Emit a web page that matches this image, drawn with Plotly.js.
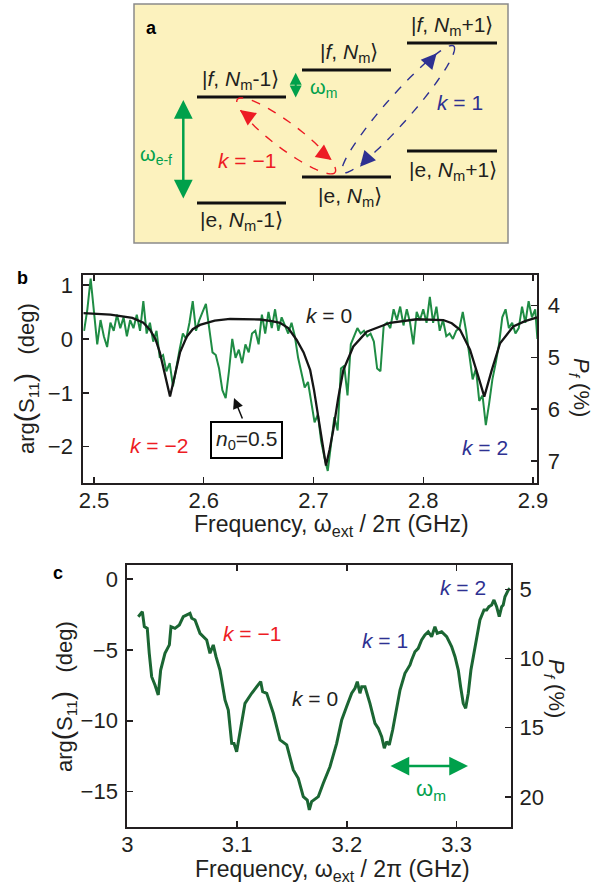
<!DOCTYPE html>
<html><head><meta charset="utf-8">
<script src="https://cdn.plot.ly/plotly-3.0.1.min.js"></script>
<style>html,body{margin:0;padding:0;background:#fff}</style>
</head><body><div id="chart" style="width:600px;height:883px"></div>
<script>
const W = 600, H = 883;

// ---------- panel b : measured phase (noisy) ----------
const freqB = [2.491,2.494,2.497,2.500,2.503,2.506,2.509,2.512,2.515,2.518,2.521,2.524,2.527,2.530,2.533,2.536,2.539,2.542,2.545,2.548,2.551,2.554,2.557,2.560,2.563,2.566,2.569,2.572,2.575,2.578,2.581,2.584,2.587,2.590,2.593,2.596,2.599,2.602,2.605,2.608,2.611,2.614,2.617,2.620,2.623,2.626,2.629,2.632,2.635,2.638,2.641,2.644,2.647,2.650,2.653,2.656,2.659,2.662,2.665,2.668,2.671,2.674,2.677,2.680,2.683,2.686,2.689,2.692,2.695,2.698,2.701,2.704,2.707,2.710,2.713,2.716,2.719,2.722,2.725,2.728,2.731,2.734,2.737,2.740,2.743,2.746,2.749,2.752,2.755,2.758,2.761,2.764,2.767,2.770,2.773,2.776,2.779,2.782,2.785,2.788,2.791,2.794,2.797,2.800,2.803,2.806,2.809,2.812,2.815,2.818,2.821,2.824,2.827,2.830,2.833,2.836,2.839,2.842,2.845,2.848,2.851,2.854,2.857,2.860,2.863,2.866,2.869,2.872,2.875,2.878,2.881,2.884,2.887,2.890,2.893,2.896,2.899,2.902,2.904];
const phaseB = [0.15,0.55,1.12,0.5,-0.1,0.35,0.05,-0.15,0.3,0.15,0.45,0.2,0.4,0.05,0.35,0.2,0.45,0.15,0.7,0.1,0.3,-0.05,0.15,-0.35,-0.3,-0.6,-0.45,-0.88,-0.5,-0.2,0.1,0.0,0.3,0.7,0.15,0.35,0.5,0.65,0.2,-0.25,-0.3,-0.55,-0.95,-1.1,-0.6,0.0,-0.35,-0.2,-0.45,-0.1,-0.25,0.1,0.15,-0.1,0.45,0.1,0.5,0.2,0.55,0.15,0.4,0.25,0.1,0.3,0.05,-0.35,-0.6,-0.9,-0.8,-1.15,-1.55,-1.4,-1.9,-2.2,-2.45,-1.95,-1.45,-1.7,-0.55,-0.5,-1.05,-0.1,0.05,0.2,0.1,0.15,0.05,0.1,-0.05,-0.55,-0.6,0.25,0.3,0.2,0.55,0.35,0.6,0.25,0.55,0.3,-0.1,0.5,0.35,0.55,0.3,0.78,0.3,0.6,0.15,0.35,0.05,0.1,0.0,0.15,0.2,0.5,0.15,-0.35,-0.75,-0.55,-1.15,-1.05,-1.6,-1.2,-0.75,-0.45,-0.1,0.4,0.55,0.2,0.3,0.1,0.2,0.6,0.3,0.7,0.4,0.55,0.0];

// ---------- panel b : fit curve ----------
const fitFreqB = [2.4903,2.515,2.535,2.545,2.551,2.556,2.560,2.5647,2.5693,2.574,2.5784,2.5845,2.590,2.5966,2.610,2.624,2.640,2.6513,2.662,2.6695,2.677,2.6847,2.691,2.697,2.7005,2.7044,2.708,2.7114,2.7147,2.718,2.7225,2.7272,2.7363,2.7485,2.7697,2.794,2.8183,2.826,2.8335,2.8426,2.8502,2.8556,2.8624,2.870,2.882,2.8927,2.904];
const fitPhaseB = [0.48,0.45,0.39,0.30,0.17,0.0,-0.25,-0.65,-1.07,-0.65,-0.25,0.04,0.18,0.26,0.34,0.37,0.37,0.36,0.33,0.30,0.2,-0.02,-0.25,-0.58,-0.95,-1.44,-1.95,-2.35,-2.05,-1.69,-1.1,-0.58,-0.14,0.135,0.30,0.365,0.35,0.29,0.17,-0.20,-0.70,-1.07,-0.58,-0.08,0.23,0.33,0.40];

// ---------- panel c : measured phase ----------
const freqC = [3.0100,3.0137,3.0155,3.0182,3.0200,3.0222,3.0252,3.0282,3.0304,3.0343,3.0383,3.0398,3.0434,3.0474,3.0510,3.0571,3.0587,3.0617,3.0662,3.0723,3.0753,3.0783,3.0808,3.0844,3.0890,3.0920,3.0951,3.0972,3.0996,3.1026,3.1072,3.1133,3.1179,3.1215,3.1233,3.1270,3.1330,3.1391,3.1452,3.1512,3.1557,3.1603,3.1639,3.1658,3.1679,3.1740,3.1785,3.1846,3.1907,3.1953,3.1998,3.2044,3.2074,3.2095,3.2119,3.2135,3.2165,3.2210,3.2256,3.2286,3.2317,3.2341,3.2362,3.2386,3.2417,3.2454,3.2484,3.2529,3.2575,3.2590,3.2620,3.2650,3.2681,3.2711,3.2741,3.2772,3.2802,3.2823,3.2863,3.2909,3.2954,3.2985,3.3015,3.3036,3.3060,3.3082,3.3106,3.3130,3.3151,3.3182,3.3212,3.3249,3.3273,3.3294,3.3319,3.3340,3.3364,3.3388,3.3410,3.3424,3.3440,3.3470,3.3485];
const phaseC = [-2.66,-2.3,-3.36,-3.48,-5.24,-6.89,-7.47,-8.18,-6.42,-5.24,-4.65,-3.36,-3.48,-3.24,-2.66,-2.42,-2.77,-2.89,-3.83,-4.3,-5.24,-4.65,-5.48,-6.42,-8.53,-9.24,-11.59,-11.6,-12.18,-10.88,-8.77,-8.06,-7.6,-7.24,-7.95,-8.06,-9.47,-11.35,-11.7,-13.47,-14.06,-15.35,-15.59,-16.29,-15.7,-15.35,-14.41,-13.24,-11.59,-9.94,-9.0,-8.06,-7.71,-7.24,-8.06,-7.6,-7.6,-8.77,-10.18,-10.53,-11.12,-11.94,-11.47,-11.7,-10.65,-9.24,-7.83,-6.65,-6.06,-5.71,-5.13,-4.89,-4.3,-3.95,-3.72,-4.07,-3.36,-3.83,-3.72,-4.07,-4.77,-5.48,-6.42,-7.6,-8.77,-9.12,-8.06,-6.42,-5.48,-4.07,-2.89,-2.19,-2.19,-1.95,-1.83,-1.48,-1.95,-2.66,-1.95,-1.83,-1.25,-0.78,-0.66];

// ---------- tick labels ----------
const tickValsBx = [2.5,2.6,2.7,2.8,2.9];
const tickTextBx = ['2.5','2.6','2.7','2.8','2.9'];
const tickValsBy = [-2,-1,0,1];
const tickTextBy = ['\u22122','\u22121','0','1'];
const tickValsBr = [4,5,6,7];
const tickTextBr = ['4','5','6','7'];
const tickValsCx = [3,3.1,3.2,3.3];
const tickTextCx = ['3','3.1','3.2','3.3'];
const tickValsCy = [-15,-10,-5,0];
const tickTextCy = ['\u221215','\u221210','\u22125','0'];
const tickValsCr = [5,10,15,20];
const tickTextCr = ['5','10','15','20'];

// ---------- helpers ----------
const X = p => p / W;
const Y = p => 1 - p / H;
const FONT = 'Liberation Sans, Arial, Helvetica, sans-serif';
const DARK = '#231f20';
const RED = '#ed1c24';
const BLUE = '#2e3192';
const GREEN = '#00a04b';

const axisBase = {
  showline: true, linecolor: DARK, linewidth: 2,
  ticks: 'inside', ticklen: 6, tickwidth: 1.5, tickcolor: DARK,
  showgrid: false, zeroline: false, fixedrange: true,
  tickfont: {family: FONT, size: 22, color: DARK}
};

const traces = [
  {x: freqB, y: phaseB, xaxis: 'x', yaxis: 'y', mode: 'lines',
   line: {color: '#1f8c44', width: 2}, hoverinfo: 'skip'},
  {x: fitFreqB, y: fitPhaseB, xaxis: 'x', yaxis: 'y', mode: 'lines',
   line: {color: '#151515', width: 2.3}, hoverinfo: 'skip'},
  {x: freqC, y: phaseC, xaxis: 'x2', yaxis: 'y3', mode: 'lines',
   line: {color: '#1b6633', width: 3}, hoverinfo: 'skip'},
  {x: [], y: [], xaxis: 'x', yaxis: 'y2', mode: 'lines'},
  {x: [], y: [], xaxis: 'x2', yaxis: 'y4', mode: 'lines'}
];

function ellipsePath(cx, cy, a, b, deg) {
  const t = deg * Math.PI / 180;
  let d = '';
  for (let i = 0; i <= 90; i++) {
    const u = i / 90 * 2 * Math.PI;
    const px = cx + a * Math.cos(u) * Math.cos(t) - b * Math.sin(u) * Math.sin(t);
    const py = cy + a * Math.cos(u) * Math.sin(t) + b * Math.sin(u) * Math.cos(t);
    d += (i ? 'L' : 'M') + X(px).toFixed(5) + ',' + Y(py).toFixed(5);
  }
  return d + 'Z';
}
function level(x0, x1, y) {
  return {type: 'line', xref: 'paper', yref: 'paper', x0: X(x0), x1: X(x1), y0: Y(y), y1: Y(y),
          line: {color: '#111', width: 3}};
}

const shapes = [
  {type: 'rect', xref: 'paper', yref: 'paper', x0: X(134), x1: X(508), y0: Y(243), y1: Y(4),
   fillcolor: '#fcf2be', line: {color: '#8a8a8a', width: 1.5}, layer: 'below'},
  level(197, 286, 97), level(197, 286, 203),
  level(302, 391, 70), level(302, 391, 177),
  level(407, 497, 43), level(407, 497, 151),
  {type: 'path', xref: 'paper', yref: 'paper', path: ellipsePath(286.2, 135.9, 61, 13, 36.8),
   line: {color: RED, width: 1.4, dash: 'dash'}},
  {type: 'path', xref: 'paper', yref: 'paper', path: ellipsePath(398.3, 109.2, 84, 13, -48.7),
   line: {color: BLUE, width: 1.4, dash: 'dash'}}
];

function txt(text, x, y, opts) {
  const o = Object.assign({size: 21, color: DARK, angle: 0}, opts || {});
  return {text: text, xref: 'paper', yref: 'paper', x: X(x), y: Y(y), showarrow: false,
          xanchor: 'center', yanchor: 'middle', textangle: o.angle,
          font: {family: FONT, size: o.size, color: o.color}};
}
function arrow(tipX, tipY, ax, ay, color, width, both, size) {
  return {text: '', xref: 'paper', yref: 'paper', x: X(tipX), y: Y(tipY), ax: ax, ay: ay,
          showarrow: true, arrowhead: 2, arrowsize: size || 1.3, arrowwidth: width,
          arrowcolor: color, arrowside: both ? 'end+start' : 'end', standoff: 0, startstandoff: 0,
          font: {family: FONT, size: 10}};
}

const freqTitle = 'Frequency, \u03c9<sub>ext</sub> / 2\u03c0 (GHz)';
const argTitle = 'arg<span style="font-size:28px">(</span>S<sub>11</sub><span style="font-size:28px">)</span>   (deg)';
const pfTitle = '<i>P</i><sub><i>f</i></sub> (%)';

const annotations = [
  // panel a
  txt('<b>a</b>', 151.7, 28, {size: 18, color: '#000'}),
  txt('|<i>f</i>, <i>N</i><sub>m</sub>-1\u27e9', 240.5, 80),
  txt('|e, <i>N</i><sub>m</sub>-1\u27e9', 241, 221),
  txt('|<i>f</i>, <i>N</i><sub>m</sub>\u27e9', 349, 53),
  txt('|e, <i>N</i><sub>m</sub>\u27e9', 350, 197),
  txt('|<i>f</i>, <i>N</i><sub>m</sub>+1\u27e9', 452, 26),
  txt('|e, <i>N</i><sub>m</sub>+1\u27e9', 453, 171),
  txt('\u03c9<sub>e-f</sub>', 156, 155, {color: GREEN, size: 20}),
  txt('\u03c9<sub>m</sub>', 323, 88, {color: GREEN, size: 20}),
  txt('<i>k</i> = \u22121', 246.5, 160, {color: RED}),
  txt('<i>k</i> = 1', 459.5, 103, {color: BLUE}),
  arrow(183.3, 100, 0, 100, GREEN, 2.5, true, 1.5),
  arrow(295.7, 72.7, 0, 26.3, GREEN, 2, true, 1.2),
  arrow(240, 110, 10, 7.5, RED, 1.4, false, 2.2),
  arrow(331.7, 160, -10, -7.5, RED, 1.4, false, 2.2),
  arrow(436.7, 53.3, -8.2, 9.3, BLUE, 1.4, false, 2.2),
  arrow(360, 166.7, 8.2, -9.3, BLUE, 1.4, false, 2.2),
  // panel b
  txt('<b>b</b>', 22.5, 277.5, {size: 18, color: '#000'}),
  txt('<i>k</i> = 0', 329, 316),
  txt('<i>k</i> = \u22122', 159, 445, {color: RED}),
  txt('<i>k</i> = 2', 485, 448, {color: BLUE}),
  Object.assign(txt('<i>n</i><sub>0</sub>=0.5', 246.5, 440), {bordercolor: '#000', borderwidth: 2, borderpad: 4, bgcolor: '#fff'}),
  arrow(234, 398, 9, 22, '#111', 1.5, false, 1.4),
  txt(freqTitle, 331, 525, {size: 23}),
  txt(argTitle, 25, 379, {angle: -90, size: 22}),
  txt(pfTitle, 580, 387, {angle: 90, size: 22}),
  // panel c
  txt('<b>c</b>', 57.5, 573, {size: 18, color: '#000'}),
  txt('<i>k</i> = \u22121', 252, 633, {color: RED}),
  txt('<i>k</i> = 0', 315, 698),
  txt('<i>k</i> = 1', 385, 640, {color: BLUE}),
  txt('<i>k</i> = 2', 463, 587, {color: BLUE}),
  arrow(468, 766, -79, 0, GREEN, 2.5, true, 1.5),
  txt('\u03c9<sub>m</sub>', 431, 790, {color: GREEN, size: 22}),
  txt(freqTitle, 332, 870, {size: 23}),
  txt(argTitle, 63, 697, {angle: -90, size: 22}),
  txt(pfTitle, 555, 688, {angle: 90, size: 22})
];

const layout = {
  width: W, height: H,
  margin: {l: 0, r: 0, t: 0, b: 0, pad: 0},
  paper_bgcolor: '#fff', plot_bgcolor: 'rgba(0,0,0,0)',
  showlegend: false,
  font: {family: FONT, color: DARK},
  xaxis: Object.assign({}, axisBase, {domain: [X(83.3), X(537.3)], anchor: 'y', range: [2.4903, 2.9039],
    tickmode: 'array', tickvals: tickValsBx, ticktext: tickTextBx, mirror: 'ticks', ticklabelstandoff: -3}),
  yaxis: Object.assign({}, axisBase, {domain: [Y(482.7), Y(275)], anchor: 'x', range: [-2.668, 1.186],
    tickmode: 'array', tickvals: tickValsBy, ticktext: tickTextBy, ticklabelstandoff: 4}),
  yaxis2: Object.assign({}, axisBase, {overlaying: 'y', anchor: 'x', side: 'right', range: [7.419, 3.407],
    tickmode: 'array', tickvals: tickValsBr, ticktext: tickTextBr, ticklabelstandoff: 4}),
  xaxis2: Object.assign({}, axisBase, {domain: [X(127.3), X(511)], anchor: 'y3', range: [3.0, 3.3495],
    tickmode: 'array', tickvals: tickValsCx, ticktext: tickTextCx, mirror: 'ticks', ticklabelstandoff: -3}),
  yaxis3: Object.assign({}, axisBase, {domain: [Y(826.7), Y(565)], anchor: 'x2', range: [-17.47, 0.987],
    tickmode: 'array', tickvals: tickValsCy, ticktext: tickTextCy, ticklabelstandoff: 3}),
  yaxis4: Object.assign({}, axisBase, {overlaying: 'y3', anchor: 'x2', side: 'right', range: [22.16, 3.243],
    tickmode: 'array', tickvals: tickValsCr, ticktext: tickTextCr, ticklabelstandoff: 2}),
  shapes: shapes,
  annotations: annotations
};

Plotly.newPlot('chart', traces, layout, {staticPlot: true, displayModeBar: false});
</script>
</body></html>
